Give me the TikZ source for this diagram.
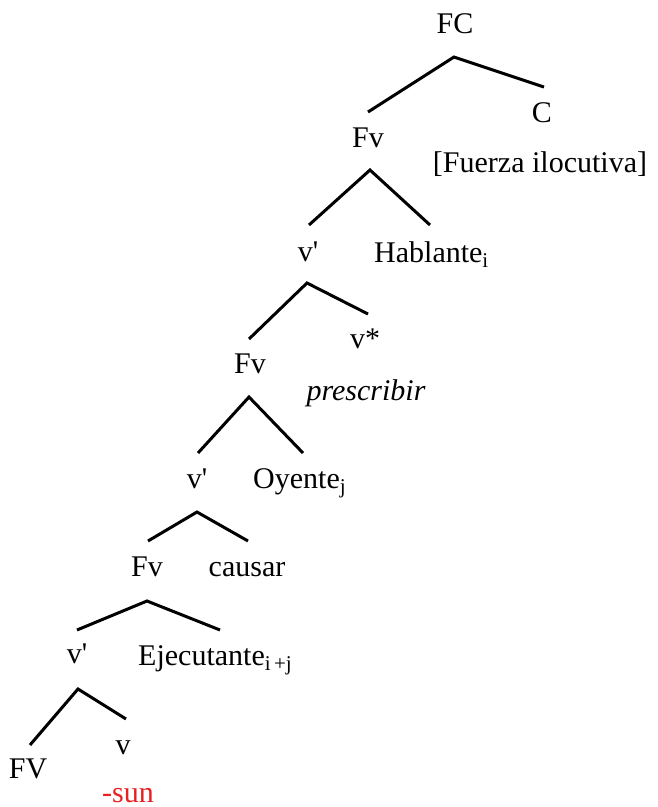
\documentclass[tikz,border=0pt]{standalone}
\usepackage{fontspec}
\setmainfont{Liberation Serif}
\definecolor{sunred}{RGB}{232,32,32}
\begin{document}
\begin{tikzpicture}[x=1pt,y=-1pt,
  lbl/.style={anchor=base,inner sep=0pt,font=\fontsize{30}{36}\selectfont},
  edge/.style={line width=3pt,line join=miter}]
\useasboundingbox (0,0) rectangle (658,807);
% labels
\node[lbl] (FC) at (455,33) {FC};
\node[lbl] (C) at (542,122) {C};
\node[lbl] (Fv1) at (368,147) {Fv};
\node[lbl] (fuerza) at (540,172) {[Fuerza ilocutiva]};
\node[lbl] (v1) at (308,261) {v\textquotesingle};
\node[lbl,anchor=base west] (habl) at (374,262) {Hablante\textsubscript{i}};
\node[lbl] (vstar) at (365,348) {v*};
\node[lbl] (Fv2) at (250,373) {Fv};
\node[lbl,font=\fontsize{30}{36}\selectfont\itshape] (presc) at (366,400) {prescribir};
\node[lbl] (v2) at (197,488) {v\textquotesingle};
\node[lbl,anchor=base west] (oy) at (253,488) {Oyente\textsubscript{j}};
\node[lbl] (Fv3) at (147,576) {Fv};
\node[lbl] (causar) at (247,576) {causar};
\node[lbl] (v3) at (77,663) {v\textquotesingle};
\node[lbl,anchor=base west] (ejec) at (138,665) {Ejecutante\textsubscript{i\,+j}};
\node[lbl] (v4) at (123,754) {v};
\node[lbl] (FV) at (28,778) {FV};
\node[lbl,text=sunred] (sun) at (128,802) {-sun};
% branch points
\coordinate (a1) at (454,57);  \coordinate (l1) at (368,112); \coordinate (r1) at (544,87);
\coordinate (a2) at (370,170); \coordinate (l2) at (309,225); \coordinate (r2) at (430,225);
\coordinate (a3) at (307,283); \coordinate (l3) at (249,339); \coordinate (r3) at (368,314);
\coordinate (a4) at (249,397); \coordinate (l4) at (198,453); \coordinate (r4) at (303,453);
\coordinate (a5) at (197,512); \coordinate (l5) at (148,541); \coordinate (r5) at (248,541);
\coordinate (a6) at (147,601); \coordinate (l6) at (77,630);  \coordinate (r6) at (220,630);
\coordinate (a7) at (78,689);  \coordinate (l7) at (30,745);  \coordinate (r7) at (126,719);
\foreach \i in {1,...,7}{
  \draw[edge] (l\i) -- (a\i) -- (r\i);
}
\end{tikzpicture}
\end{document}
